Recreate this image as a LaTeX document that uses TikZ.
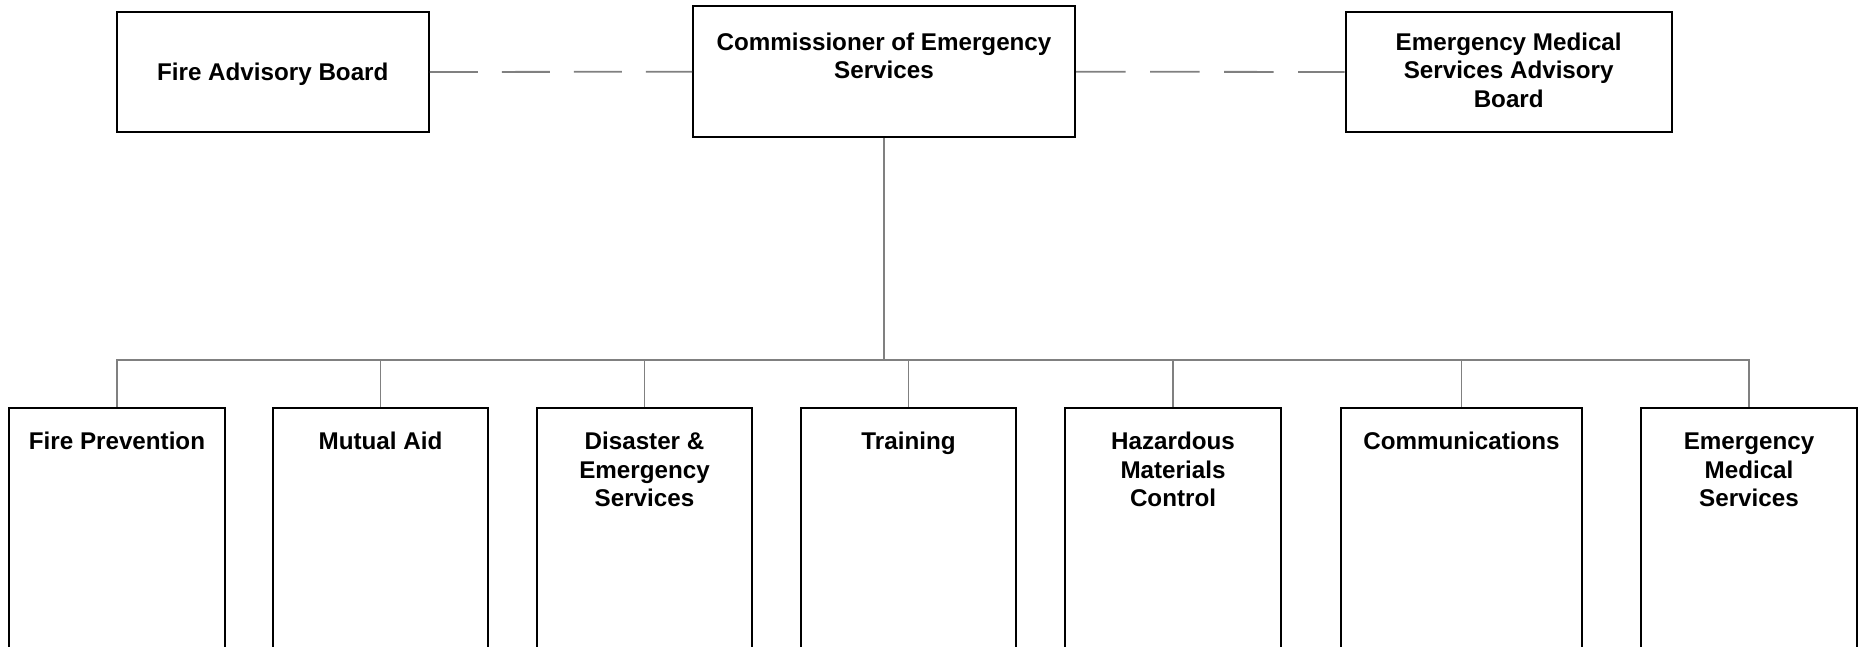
\documentclass[tikz,border=0pt]{standalone}
\usepackage{fontspec}
\setmainfont{Liberation Sans}
\definecolor{linegray}{RGB}{128,128,128}
\newcommand{\ftop}{\rule{0pt}{20pt}}
\begin{document}
\begin{tikzpicture}[x=1pt,y=-1pt,
  box/.style={draw=black,line width=2pt,fill=white,inner sep=0pt,rectangle},
  lbl/.style={font=\fontsize{24.2}{28.5}\selectfont\bfseries,align=center,anchor=north,inner sep=0pt},
  link/.style={draw=linegray,line width=1.8pt},
  dlink/.style={link,dash pattern=on 48pt off 24pt},
  dlinkr/.style={link,dash pattern=on 49.5pt off 24.5pt}]
\clip (0,0) rectangle (1863,647);
\fill[white] (0,0) rectangle (1863,647);
% top row
\node[box,minimum width=312pt,minimum height=120pt] (fab) at (272.8,72) {};
\node[box,minimum width=382pt,minimum height=131pt] (com) at (884,71.7) {};
\node[box,minimum width=326pt,minimum height=120pt] (emsa) at (1508.7,72) {};
% bottom row
\node[box,minimum width=216pt,minimum height=292pt] (c1) at (117,554) {};
\node[box,minimum width=215pt,minimum height=292pt] (c2) at (380.5,554) {};
\node[box,minimum width=215pt,minimum height=292pt] (c3) at (644.5,554) {};
\node[box,minimum width=215pt,minimum height=292pt] (c4) at (908.5,554) {};
\node[box,minimum width=216pt,minimum height=292pt] (c5) at (1173,554) {};
\node[box,minimum width=241pt,minimum height=292pt] (c6) at (1461.5,554) {};
\node[box,minimum width=216pt,minimum height=292pt] (c7) at (1749,554) {};
% connectors
\coordinate (bus) at (884,360);
\draw[dlink] (fab.east) -- (com.west);
\draw[dlinkr] (com.east) -- (emsa.west);
\draw[link] (com.south) -- (bus);
\draw[link] (c1.north) -- (c1.north |- bus) -- (c7.north |- bus) -- (c7.north);
\foreach \c in {c2,c3,c4,c5,c6}{
  \draw[link] (\c.north) -- (\c.north |- bus);
}
% labels
\node[lbl] (tfab) at (272.8,59.9) {\ftop Fire Advisory Board};
\node[lbl] (tcom) at (884,30.2) {\ftop Commissioner of Emergency\\Services};
\node[lbl] (temsa) at (1508.7,30.2) {\ftop Emergency Medical\\Services Advisory\\Board};
\node[lbl] (t1) at (117,429.5) {\ftop Fire Prevention};
\node[lbl] (t2) at (380.5,429.5) {\ftop Mutual Aid};
\node[lbl] (t3) at (644.5,429.5) {\ftop Disaster \&\\Emergency\\Services};
\node[lbl] (t4) at (908.5,429.5) {\ftop Training};
\node[lbl] (t5) at (1173,429.5) {\ftop Hazardous\\Materials\\Control};
\node[lbl] (t6) at (1461.5,429.5) {\ftop Communications};
\node[lbl] (t7) at (1749,429.5) {\ftop Emergency\\Medical\\Services};
\end{tikzpicture}
\end{document}
